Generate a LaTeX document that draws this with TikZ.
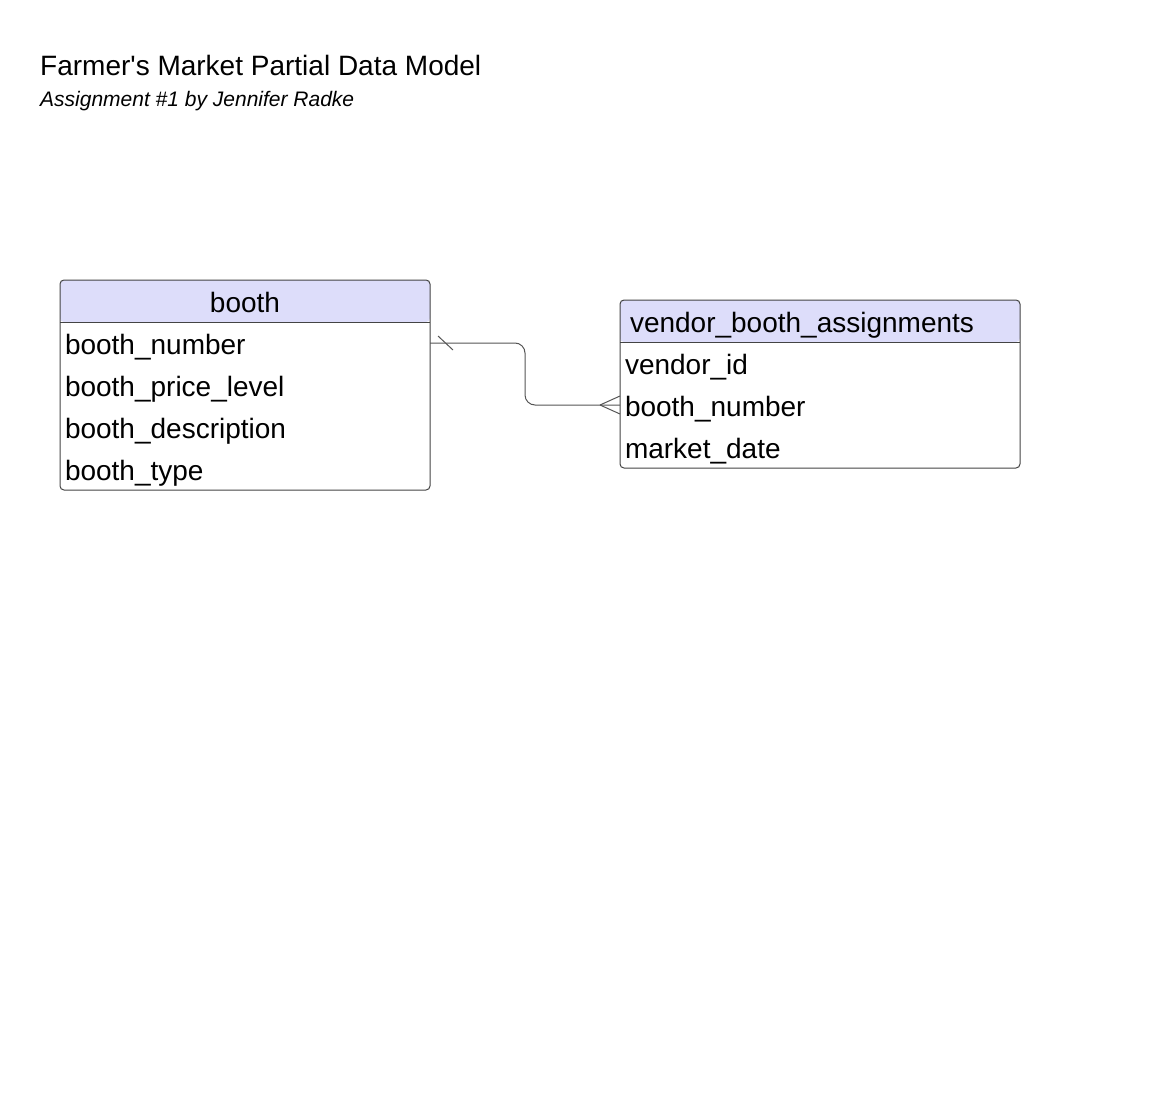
\documentclass[tikz,border=0pt]{standalone}
\usepackage{fontspec}
\setmainfont{Liberation Sans}
\usetikzlibrary{positioning}
\definecolor{headblue}{HTML}{DDDDFA}
\definecolor{boxgray}{HTML}{444444}
\definecolor{linegray}{HTML}{555555}
\tikzset{
  field/.style={inner xsep=5pt, inner ysep=0pt, outer sep=0pt, minimum height=42pt,
    text height=26pt, text depth=4pt, align=left,
    font=\fontsize{28}{34}\selectfont},
  head/.style={field, fill=headblue, rounded corners=4pt},
  tablebox/.style={draw=boxgray, line width=1pt, rounded corners=4pt},
  rel/.style={draw=linegray, line width=1pt}
}
\begin{document}
\begin{tikzpicture}[x=1pt,y=-1pt]
\useasboundingbox (0,0) rectangle (1172,1110);
% Title
\node[anchor=base west, inner sep=0pt, font=\fontsize{28}{34}\selectfont] (title) at (40,76) {Farmer\textquotesingle s Market Partial Data Model};
\node[anchor=base west, inner sep=0pt, font=\fontsize{21}{25}\selectfont\itshape] (subtitle) at (40,107) {Assignment \#1 by Jennifer Radke};
% booth table
\node[head, text width=360pt, align=center, anchor=north west] (booth) at (60,280) {booth};
\node[field, text width=360pt, below=0pt of booth] (booth-number) {booth\_number};
\node[field, text width=360pt, below=0pt of booth-number] (booth-price) {booth\_price\_level};
\node[field, text width=360pt, below=0pt of booth-price] (booth-desc) {booth\_description};
\node[field, text width=360pt, below=0pt of booth-desc] (booth-type) {booth\_type};
\draw[tablebox] (booth.north west) rectangle (booth-type.south east);
\draw[draw=boxgray, line width=1pt] (booth.south west) -- (booth.south east);
% vendor_booth_assignments table
\node[head, text width=380pt, inner xsep=10pt, anchor=north west] (vba) at (620,300) {vendor\_booth\_assignments};
\node[field, text width=390pt, below=0pt of vba] (vba-vendor) {vendor\_id};
\node[field, text width=390pt, below=0pt of vba-vendor] (vba-booth) {booth\_number};
\node[field, text width=390pt, below=0pt of vba-booth] (vba-date) {market\_date};
\draw[tablebox] (vba.north west) rectangle (vba-date.south east);
\draw[draw=boxgray, line width=1pt] (vba.south west) -- (vba.south east);
% Relationship: one booth, many assignments
\coordinate (bend) at (525,374);
\draw[rel, rounded corners=10pt] (booth-number.east) -| (bend) |- (vba-booth.west);
\draw[rel] ([shift={(8,-7)}]booth-number.east) -- ++(15,14);
\draw[rel] ([xshift=-20pt]vba-booth.west) -- ([yshift=9pt]vba-booth.west);
\draw[rel] ([xshift=-20pt]vba-booth.west) -- ([yshift=-9pt]vba-booth.west);
\end{tikzpicture}
\end{document}
